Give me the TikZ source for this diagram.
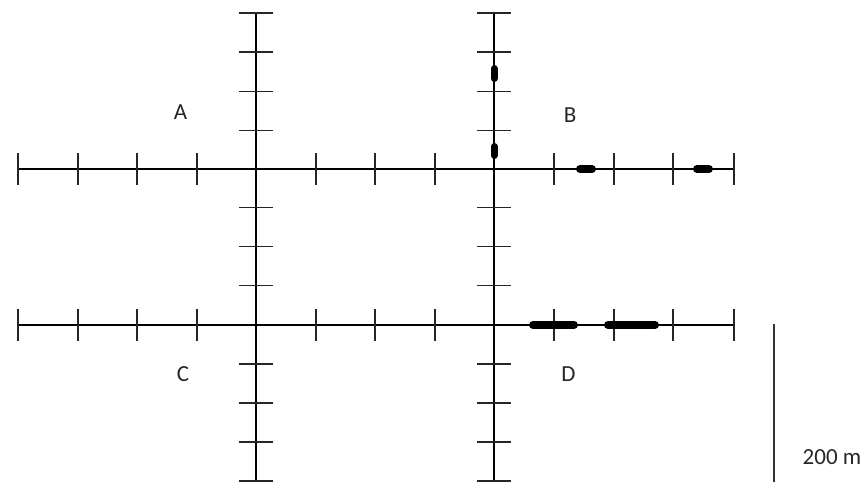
\documentclass[tikz,border=0pt]{standalone}
\usepackage{fontspec}
\setmainfont{Carlito}
\begin{document}
\begin{tikzpicture}[x=1pt,y=-1pt,
  axis/.style={line width=1.8pt,black},
  tickmark/.style={line width=1.8pt,black!85},
  blob/.style={line width=8pt,line cap=round,black},
  lbl/.style={inner sep=0pt,font=\fontsize{23}{27}\selectfont,text=black!85}]
\useasboundingbox (0,0) rectangle (867,482);
% horizontal axes
\foreach \yy in {169,325}{
  \draw[axis] (18,\yy) -- (734,\yy);
  \foreach \xx in {18,77.7,137.3,197,316,375.3,434.7,554,613.7,673.3,734}{
    \draw[tickmark] (\xx,\yy-16) -- (\xx,\yy+16);
  }
}
% vertical axes
\foreach \xx in {256,494}{
  \draw[axis] (\xx,13) -- (\xx,482);
  \foreach \yy in {13,52,91.5,130.5,207.5,246.5,285.5,364,403,442,481}{
    \draw[tickmark] (\xx-17,\yy) -- (\xx+17,\yy);
  }
}
% thick segments
\draw[blob,line width=7pt] (494,68.5) -- (494,78.5);
\draw[blob,line width=7pt] (494,146.5) -- (494,155.5);
\draw[blob] (580,169) -- (592,169);
\draw[blob] (697,169) -- (709,169);
\draw[blob] (533,325) -- (574,325);
\draw[blob] (608,325) -- (655,325);
% scale bar
\draw[line width=1.8pt,black!80] (774,324) -- (774,482);
\node[lbl] (scale) at (832,457) {200 m};
% labels
\node[lbl] (A) at (180.5,112.5) {A};
\node[lbl] (B) at (570,115) {B};
\node[lbl] (C) at (183,374.5) {C};
\node[lbl] (D) at (568.5,374) {D};
\end{tikzpicture}
\end{document}
